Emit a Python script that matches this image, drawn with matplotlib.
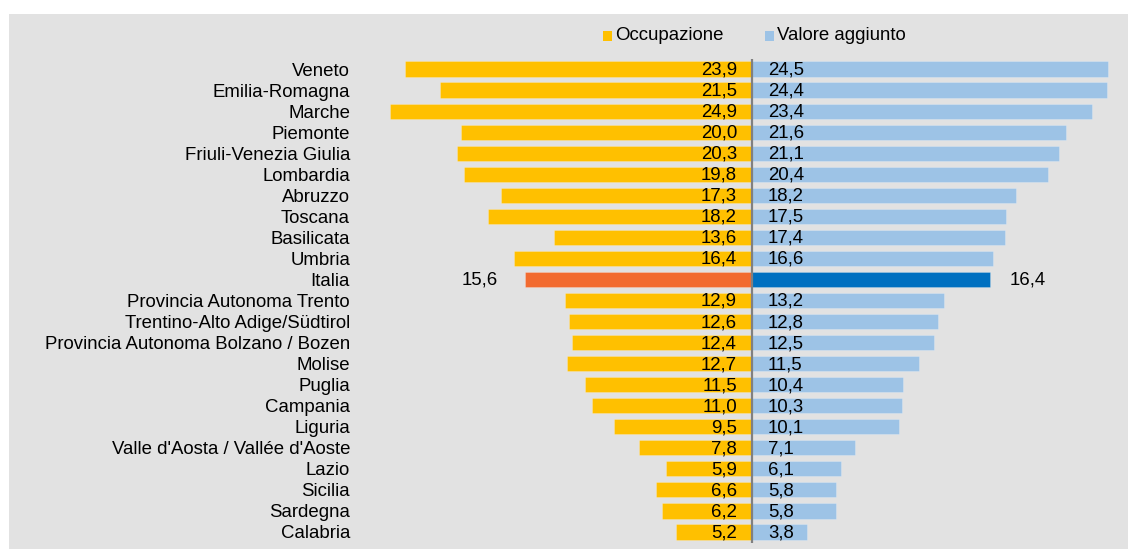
import matplotlib
matplotlib.use("Agg")
import matplotlib.pyplot as plt
from matplotlib.patches import Rectangle

plt.rcParams['font.family'] = ['Liberation Sans', 'DejaVu Sans']

regions = [
    "Veneto", "Emilia-Romagna", "Marche", "Piemonte", "Friuli-Venezia Giulia",
    "Lombardia", "Abruzzo", "Toscana", "Basilicata", "Umbria", "Italia",
    "Provincia Autonoma Trento", "Trentino-Alto Adige/Südtirol",
    "Provincia Autonoma Bolzano / Bozen", "Molise", "Puglia", "Campania",
    "Liguria", "Valle d'Aosta / Vallée d'Aoste", "Lazio", "Sicilia",
    "Sardegna", "Calabria",
]
occupazione = [23.9, 21.5, 24.9, 20.0, 20.3, 19.8, 17.3, 18.2, 13.6, 16.4, 15.6,
               12.9, 12.6, 12.4, 12.7, 11.5, 11.0, 9.5, 7.8, 5.9, 6.6, 6.2, 5.2]
valore_aggiunto = [24.5, 24.4, 23.4, 21.6, 21.1, 20.4, 18.2, 17.5, 17.4, 16.6, 16.4,
                   13.2, 12.8, 12.5, 11.5, 10.4, 10.3, 10.1, 7.1, 6.1, 5.8, 5.8, 3.8]
series_names = ["Occupazione", "Valore aggiunto"]
highlight = "Italia"

W, H, DPI = 1128, 549, 100
C_OCC, C_VA = "#FFC000", "#9DC3E6"
C_OCC_HI, C_VA_HI = "#F26B30", "#0070C0"
BG = "#E2E2E2"
FS = 13.4

def fmt(v):
    return f"{v:.1f}".replace(".", ",")

fig = plt.figure(figsize=(W / DPI, H / DPI), dpi=DPI, facecolor="white")
fig.add_artist(Rectangle((9 / W, 0), (W - 9) / W, (H - 14) / H,
                         transform=fig.transFigure, facecolor=BG,
                         edgecolor="none", zorder=-10))

# axes placed in pixel units: zero line at x=752, 14.53 px per unit
left_px, right_px, top_px, bot_px = 360, 1120, 58.5, 542.5
zero_px, scale = 752.0, 14.53
ax = fig.add_axes([left_px / W, 1 - bot_px / H,
                   (right_px - left_px) / W, (bot_px - top_px) / H])
ax.set_facecolor("none")
ax.set_xlim((left_px - zero_px) / scale, (right_px - zero_px) / scale)
n = len(regions)
ax.set_ylim(n - 0.5, -0.5)

ys = list(range(n))
occ_colors = [C_OCC_HI if r == highlight else C_OCC for r in regions]
va_colors = [C_VA_HI if r == highlight else C_VA for r in regions]
ax.barh(ys, [-v for v in occupazione], height=0.72, color=occ_colors,
        edgecolor=[(1, 1, 1, 0.25)] * n, linewidth=0.6, zorder=2)
ax.barh(ys, valore_aggiunto, height=0.72, color=va_colors,
        edgecolor=[(1, 1, 1, 0.25)] * n, linewidth=0.6, zorder=2)
ax.axvline(0, color="#808080", linewidth=1.6, zorder=3)

px = 72 / DPI
dy = -1.0 * px  # nudge value labels slightly below the bar centre line
for y, r, o, v in zip(ys, regions, occupazione, valore_aggiunto):
    if r == highlight:
        ax.annotate(fmt(o), (-o, y), xytext=(-27 * px, dy), textcoords="offset points",
                    ha="right", va="center", fontsize=FS, color="black")
        ax.annotate(fmt(v), (v, y), xytext=(19 * px, dy), textcoords="offset points",
                    ha="left", va="center", fontsize=FS, color="black")
    else:
        ax.annotate(fmt(o), (0, y), xytext=(-15 * px, dy), textcoords="offset points",
                    ha="right", va="center", fontsize=FS, color="black", zorder=4)
        ax.annotate(fmt(v), (0, y), xytext=(16 * px, dy), textcoords="offset points",
                    ha="left", va="center", fontsize=FS, color="black", zorder=4)

ax.set_yticks(ys)
ax.set_yticklabels(regions, fontsize=FS)
ax.tick_params(axis="y", length=0, pad=10 * px)
ax.set_xticks([])
for s in ax.spines.values():
    s.set_visible(False)

# legend drawn as squares plus labels
leg_y = 36
for (name, col, sq_x) in zip(series_names, [C_OCC, C_VA], [603, 765]):
    fig.add_artist(Rectangle((sq_x / W, 1 - (leg_y + 4.5) / H), 9 / W, 9 / H,
                             transform=fig.transFigure, facecolor=col,
                             edgecolor="none"))
    fig.text((sq_x + 12) / W, 1 - leg_y / H, name, fontsize=FS,
             ha="left", va="center", color="black")

fig.savefig("out.png", dpi=DPI, facecolor="white")
